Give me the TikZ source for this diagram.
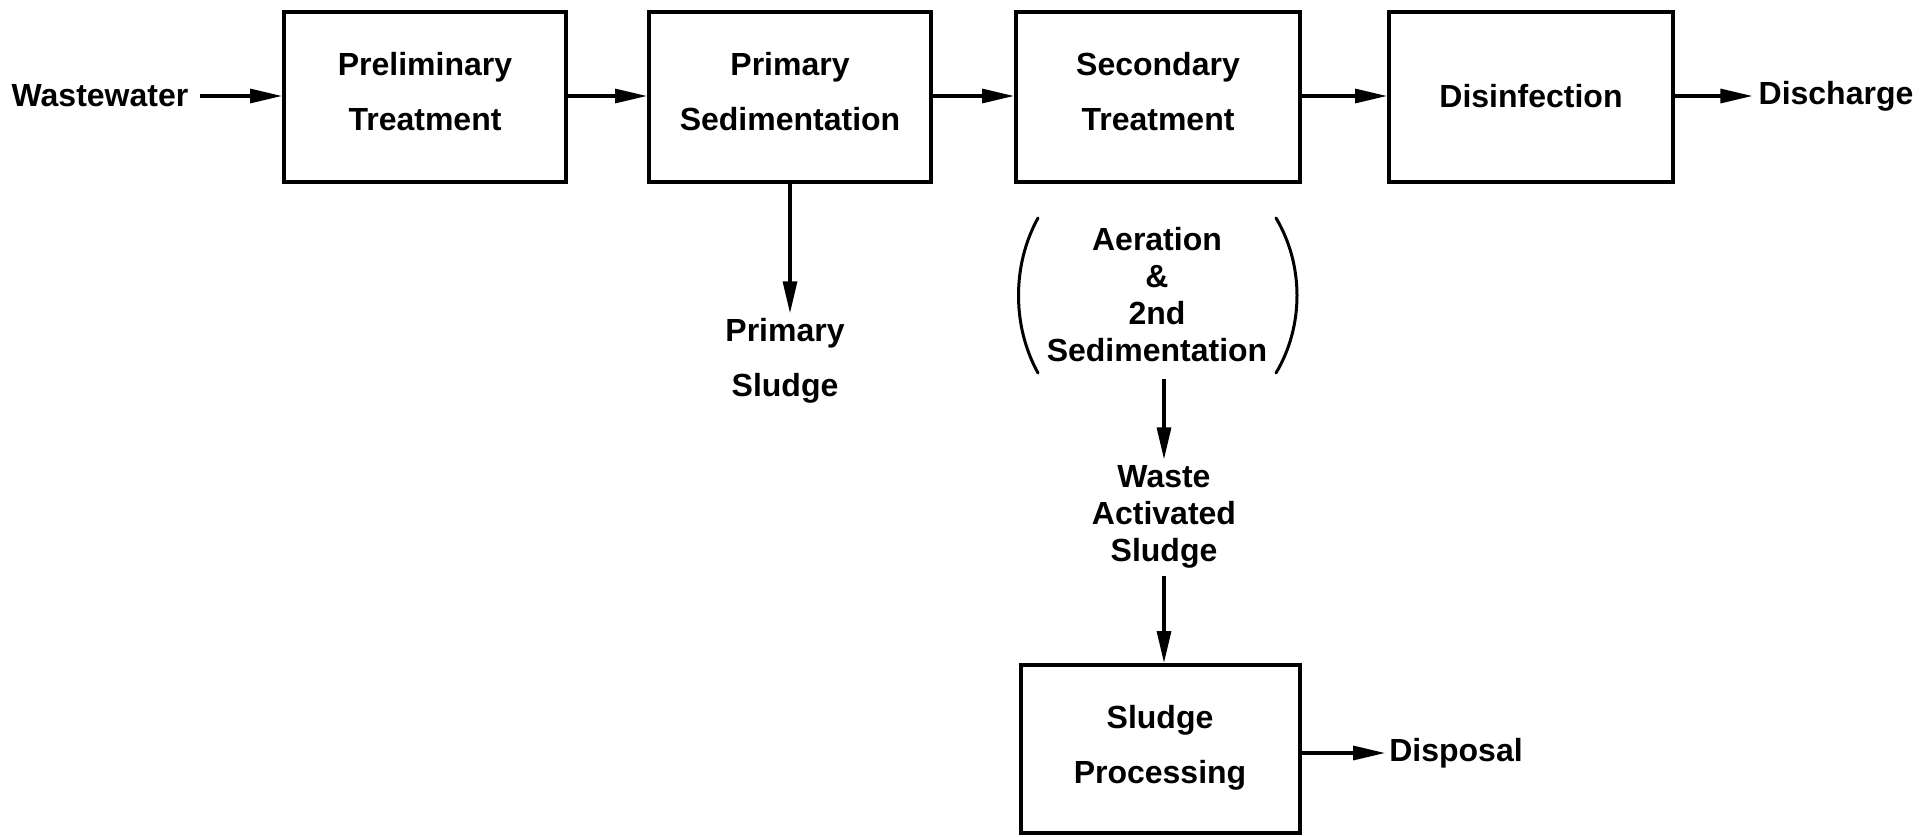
\documentclass[tikz,border=0pt]{standalone}
\usepackage{fontspec}
\setmainfont{Liberation Sans}
\usetikzlibrary{arrows.meta}
\begin{document}
\begin{tikzpicture}[x=1pt,y=-1pt,
  every node/.style={font=\bfseries\fontsize{32}{37}\selectfont, inner sep=0pt, align=center},
  procbox/.style={draw, line width=4pt, minimum height=170pt},
  flow/.style={line width=3.2pt, -{Triangle[length=32pt,width=14pt]}},
  paren/.style={line width=3pt, line cap=round}]
\useasboundingbox (0,0) rectangle (1920,836);
\node (ww) at (100,96) {Wastewater};
\node[procbox, minimum width=282pt] (b1) at (425,97) {};
\node (t1) at (425,92) {Preliminary\\[18pt]Treatment};
\node[procbox, minimum width=282pt] (b2) at (790,97) {};
\node (t2) at (790,92) {Primary\\[18pt]Sedimentation};
\node[procbox, minimum width=284pt] (b3) at (1158,97) {};
\node (t3) at (1158,92) {Secondary\\[18pt]Treatment};
\node[procbox, minimum width=284pt] (b4) at (1531,97) {};
\node (t4) at (1531,96) {Disinfection};
\node (dis) at (1836,96) {Discharge};
\node (ps) at (785,361) {Primary\\[18pt]Sludge};
\node (aer) at (1157,295) {Aeration\\\&\\2nd\\Sedimentation};
\node (was) at (1164,517) {Waste\\Activated\\Sludge};
\node[procbox, minimum width=279pt, minimum height=168pt] (b5) at (1160,749) {};
\node (t5) at (1160,748) {Sludge\\[18pt]Processing};
\node (disp) at (1456,753) {Disposal};
\coordinate (pl1) at (1038,218);
\coordinate (pl2) at (1038,373);
\coordinate (pr1) at (1276,218);
\coordinate (pr2) at (1276,373);
\draw[paren] (pl1) .. controls (1012,265) and (1012,326) .. (pl2);
\draw[paren] (pr1) .. controls (1304,265) and (1304,326) .. (pr2);
\draw[flow, shorten <=11pt] (ww.east) -- (b1.west |- ww.east);
\draw[flow] (b1.east |- ww.east) -- (b2.west |- ww.east);
\draw[flow] (b2.east |- ww.east) -- (b3.west |- ww.east);
\draw[flow] (b3.east |- ww.east) -- (b4.west |- ww.east);
\draw[flow, shorten >=6pt] (b4.east |- dis.west) -- (dis.west);
\draw[flow, shorten >=5pt] (b2.south) -- (ps.north -| b2.south);
\draw[flow, shorten <=17pt, shorten >=6pt] (aer.south -| was.north) -- (was.north);
\draw[flow, shorten <=7pt] (was.south) -- (b5.north -| was.south);
\draw[flow, shorten >=4pt] (b5.east |- disp.west) -- (disp.west);
\end{tikzpicture}
\end{document}
